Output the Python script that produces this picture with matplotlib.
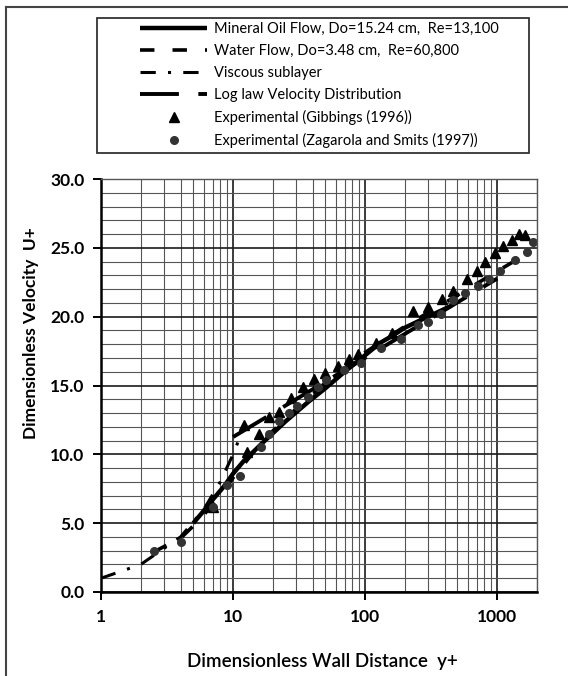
import matplotlib
matplotlib.use("Agg")
import matplotlib.pyplot as plt
import numpy as np
from matplotlib.lines import Line2D
from matplotlib.patches import Rectangle
from matplotlib.ticker import FixedLocator, LogLocator, NullFormatter, FuncFormatter

plt.rcParams["font.family"] = ["Lato", "DejaVu Sans"]

# computed profiles
oil_y = [5, 6, 7, 8.5, 10, 12, 17, 25, 37, 50, 70, 100, 130, 160, 200, 270, 350, 450]
oil_u = [5.0, 5.9, 6.7, 7.65, 8.6, 9.5, 10.9, 12.4, 13.8, 14.8, 16.0, 17.2, 18.1,
         18.6, 19.2, 19.8, 20.3, 20.8]
water_y = [2.5, 3, 4, 5, 6, 8, 10, 15, 20, 30, 50, 100, 200, 400, 700, 1000, 1500]
water_u = [2.9, 3.3, 3.9, 4.8, 5.6, 7.0, 8.3, 10.4, 11.7, 13.3, 15.2, 17.4, 19.3,
           21.0, 22.4, 23.3, 24.3]
visc_y = [1, 2, 4, 6, 8, 10, 11]
visc_u = [1, 2, 4, 6, 8, 10, 11]
loglaw_y = [10, 20, 50, 100, 200, 500, 1000]
loglaw_u = [11.26, 12.99, 15.28, 17.01, 18.75, 21.04, 22.77]

# experimental data
gib_y = [7.1, 12.1, 12.8, 15.7, 18.7, 22.2, 27.4, 33.6, 41.2, 50, 62, 75, 88, 121,
         160, 232, 300, 380, 465, 586, 700, 805, 958, 1110, 1290, 1450, 1620]
gib_u = [6.2, 12.1, 10.2, 11.5, 12.7, 13.1, 14.1, 14.9, 15.5, 15.9, 16.4, 16.9, 17.3,
         18.1, 18.8, 20.4, 20.7, 21.3, 21.9, 22.7, 23.3, 24.0, 24.6, 25.1, 25.6, 26.0,
         25.9]
zag_y = [2.5, 4.0, 7.1, 9.0, 11.2, 16.2, 18.7, 22.2, 26.5, 30.7, 36.7, 43.8, 50.8,
         69.4, 93.3, 132, 188, 253, 300, 378, 465, 570, 720, 860, 1050, 1370, 1680,
         1880]
zag_u = [3.0, 3.65, 6.2, 7.8, 8.4, 10.55, 11.5, 12.4, 13.0, 13.5, 14.2, 14.9, 15.4,
         16.1, 16.6, 17.7, 18.4, 19.4, 19.6, 20.2, 21.2, 21.7, 22.2, 22.7, 23.3, 24.1,
         24.7, 25.4]

x_ticks = [1, 10, 100, 1000]
y_ticks = [0, 5, 10, 15, 20, 25, 30]

fig = plt.figure(figsize=(5.68, 6.76), dpi=100)
ax = fig.add_axes([101 / 568, 1 - 592 / 676, 436 / 568, 413 / 676])

ax.set_xscale("log")
ax.set_xlim(1, 2000)
ax.set_ylim(0, 30)

# grid
ax.xaxis.set_major_locator(FixedLocator(x_ticks))
ax.xaxis.set_minor_locator(LogLocator(base=10, subs=np.arange(2, 10), numticks=20))
ax.xaxis.set_minor_formatter(NullFormatter())
ax.xaxis.set_major_formatter(FuncFormatter(lambda v, p: f"{v:g}"))
ax.yaxis.set_major_locator(FixedLocator(y_ticks))
ax.yaxis.set_minor_locator(FixedLocator(np.arange(0, 31, 1)))
ax.yaxis.set_major_formatter(FuncFormatter(lambda v, p: f"{v:.1f}"))
ax.grid(which="major", color="#1a1a1a", linewidth=1.2)
ax.grid(which="minor", color="#555555", linewidth=0.8)
ax.set_axisbelow(True)

ax.tick_params(which="major", direction="out", length=6, width=1.4, color="black",
               labelsize=12.5, pad=6)
ax.tick_params(which="minor", length=0)
for lab in ax.get_xticklabels() + ax.get_yticklabels():
    lab.set_fontweight("bold")

for side in ("top", "right"):
    ax.spines[side].set_color("#555555")
    ax.spines[side].set_linewidth(1.0)
for side in ("left", "bottom"):
    ax.spines[side].set_color("black")
    ax.spines[side].set_linewidth(1.8)

h_oil, = ax.plot(oil_y, oil_u, color="black", lw=3.2, solid_capstyle="butt",
                 label="Mineral Oil Flow, Do=15.24 cm,  Re=13,100")
h_water, = ax.plot(water_y, water_u, color="black", lw=2.6, dashes=(4, 5),
                   label="Water Flow, Do=3.48 cm,  Re=60,800")
h_visc, = ax.plot(visc_y, visc_u, color="black", lw=2.2, dashes=(5, 4, 1, 4),
                  label="Viscous sublayer")
h_log, = ax.plot(loglaw_y, loglaw_u, color="black", lw=2.8, dashes=(10, 5),
                 label="Log law Velocity Distribution")
h_gib, = ax.plot(gib_y, gib_u, ls="none", marker="^", ms=6.5, color="black",
                 label="Experimental (Gibbings (1996))")
h_zag, = ax.plot(zag_y, zag_u, ls="none", marker="o", ms=5.5, color="#333333",
                 label="Experimental (Zagarola and Smits (1997))")

fig.text(0.5 * (203 + 441) / 568, 1 - 662 / 676, "Dimensionless Wall Distance  y+",
         ha="center", va="center", fontsize=13.5, fontweight="semibold")
fig.text(31 / 568, 1 - 333 / 676, "Dimensionless Velocity  U+", rotation=90,
         ha="center", va="center", fontsize=12.5, fontweight="bold")

# legend box and outer frame
fig.patches.append(Rectangle((97 / 568, 1 - 153 / 676), 432 / 568, 135 / 676,
                             transform=fig.transFigure, fill=False,
                             edgecolor="#333333", linewidth=1.3))
fig.add_artist(Line2D([6 / 568, 6 / 568], [0, 1 - 7 / 676], transform=fig.transFigure,
                      color="#444444", lw=1.5))
fig.add_artist(Line2D([6 / 568, 1], [1 - 7 / 676, 1 - 7 / 676], transform=fig.transFigure,
                      color="#444444", lw=1.5))

fig.legend(handles=[h_oil, h_water, h_visc, h_log, h_gib, h_zag],
           loc="upper left", bbox_to_anchor=(140 / 568, 1 - 22 / 676),
           frameon=False, fontsize=10.5, borderpad=0, borderaxespad=0,
           handlelength=4.6, handletextpad=0.5, labelspacing=0.55)

fig.savefig("out.png", dpi=100)
